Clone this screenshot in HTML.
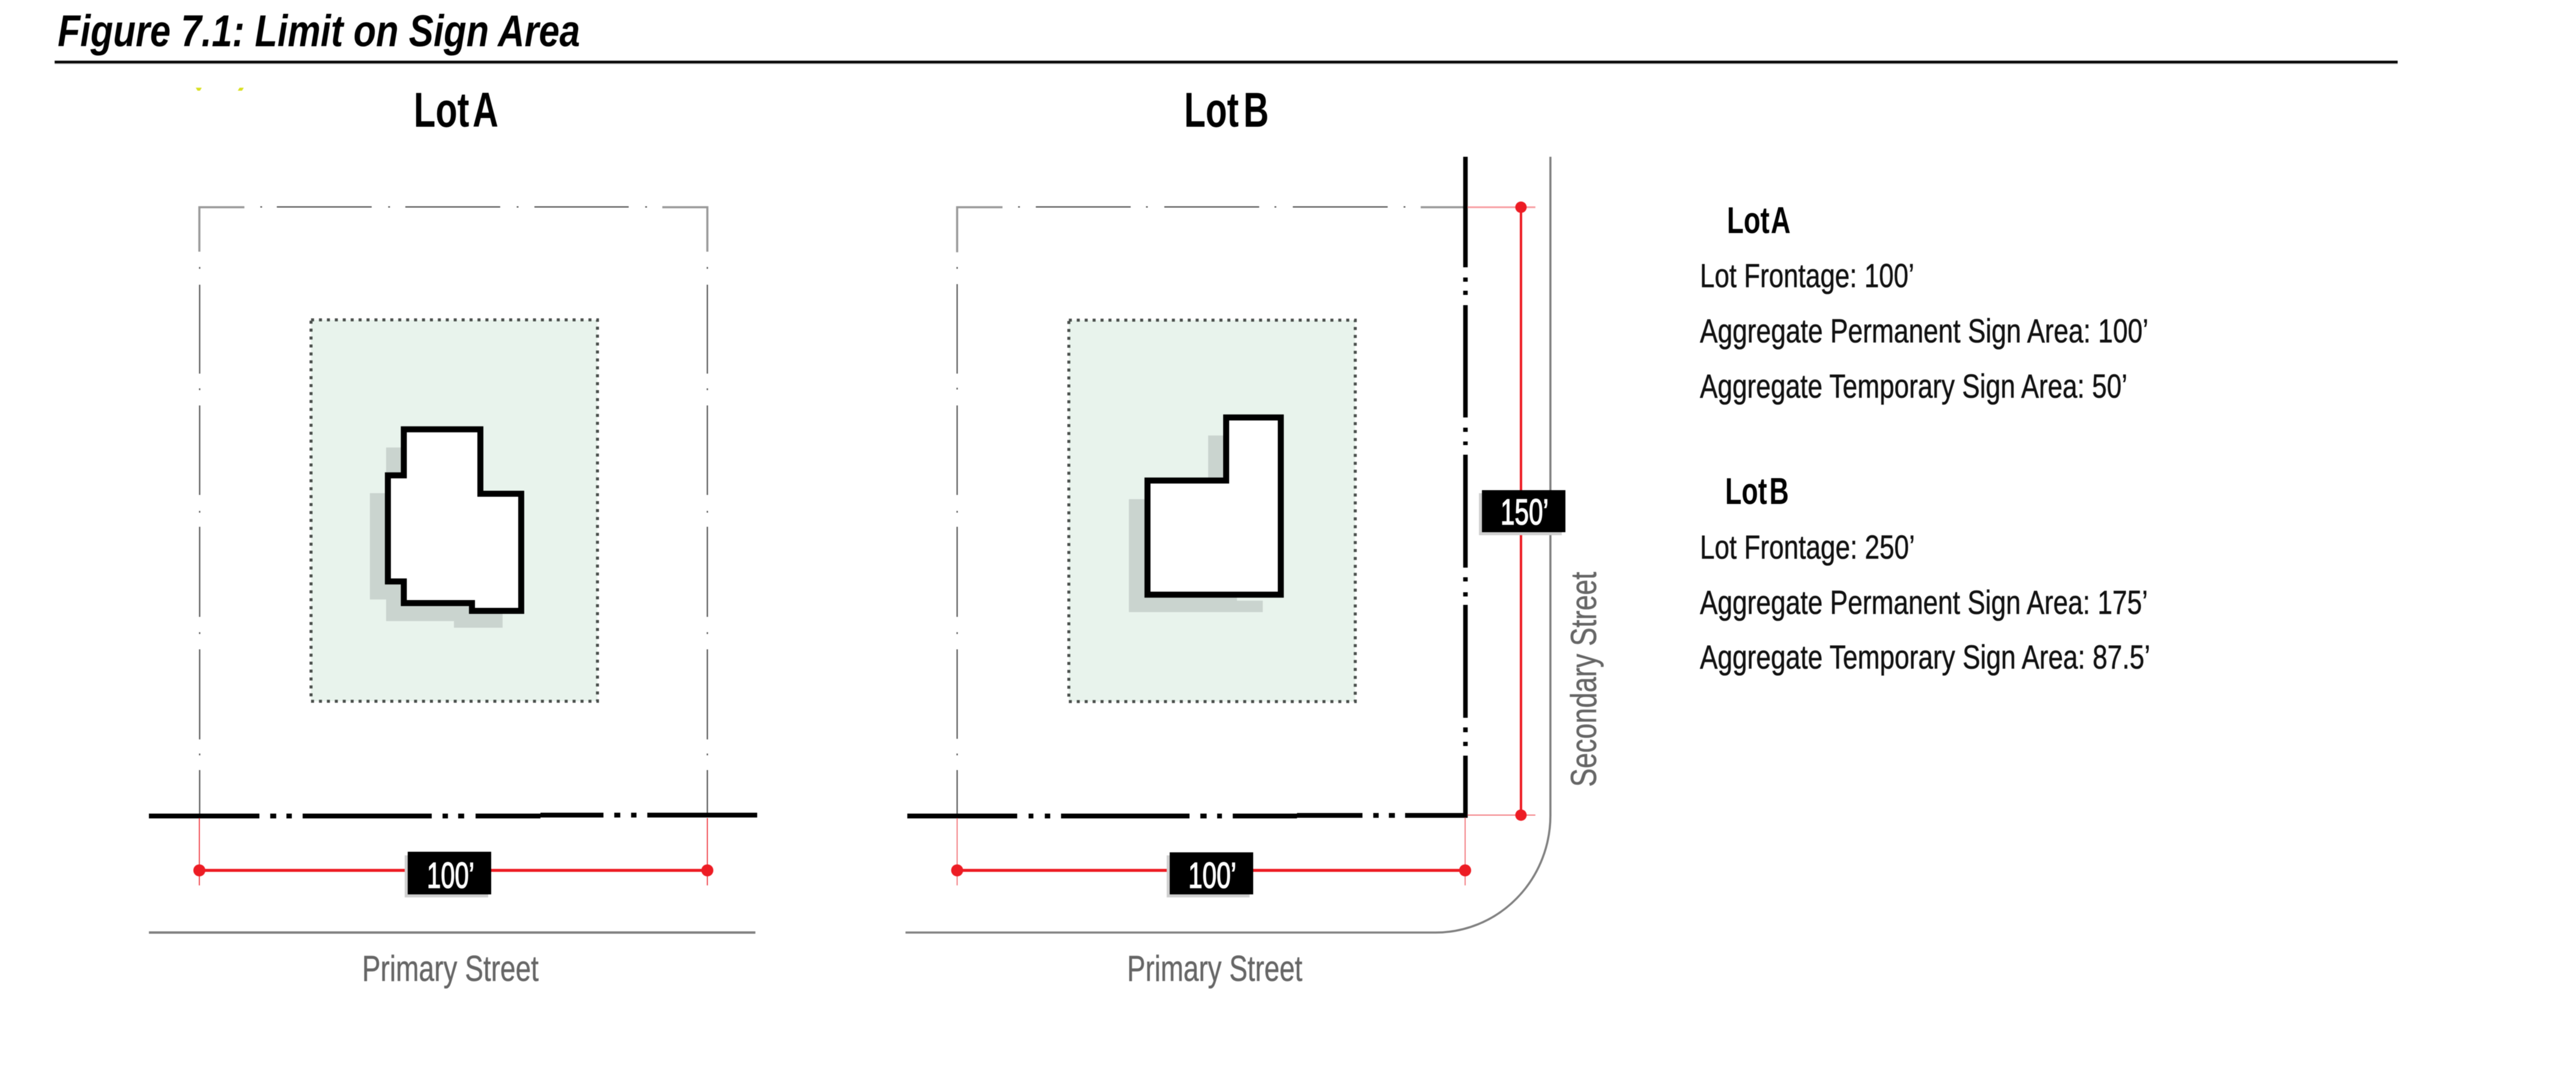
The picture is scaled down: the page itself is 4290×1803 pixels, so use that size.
<!DOCTYPE html>
<html><head><meta charset="utf-8"><title>Figure 7.1: Limit on Sign Area</title>
<style>
html,body{margin:0;padding:0;background:#fff}
svg{display:block;filter:blur(0.6px)}
text{font-family:"Liberation Sans",Arial,sans-serif}
.t{font-weight:bold;fill:#000}
.lt{font-weight:bold;fill:#000;word-spacing:-12px}
.b{fill:#111;font-size:56px;stroke:#111;stroke-width:.6px}
.s{fill:#666;font-size:60px;stroke:#666;stroke-width:.5px}
.w{fill:#fff;font-size:60px;stroke:#fff;stroke-width:1.6px}
</style></head><body>
<svg xmlns="http://www.w3.org/2000/svg" width="4290" height="1803" viewBox="0 0 4290 1803">
<rect width="4290" height="1803" fill="#fff"/>

<!-- header -->
<text x="96" y="77" font-size="74" font-weight="bold" font-style="italic" fill="#000" textLength="870" lengthAdjust="spacingAndGlyphs">Figure 7.1: Limit on Sign Area</text>
<rect x="91" y="101" width="3902" height="4.500" fill="#0a0a0a"/>
<rect x="91" y="105.500" width="3902" height="1.500" fill="#ccc"/>
<polygon points="326,146 336,146 333,151 329,151" fill="#d9e021"/>
<polygon points="396,151 399,146 406,146 403,151" fill="#d9e021"/>
<text class="lt" x="689" y="211" font-size="82" textLength="141" lengthAdjust="spacingAndGlyphs">Lot A</text>
<text class="lt" x="1972" y="211" font-size="82" textLength="141" lengthAdjust="spacingAndGlyphs">Lot B</text>

<!-- LOT A -->
<path fill="none" stroke="#999" stroke-width="3.500" d="M407 345H332V419M1103 345H1178V419"/>
<path fill="none" stroke="#5a5a5a" stroke-width="2.200" d="M433.500 344.500H436.500M461 344.500H619M646.500 344.500H649.500M675 344.500H833M860.500 344.500H863.500M890 344.500H1047M1074.500 344.500H1077.500
M332.500 444.500V447.500M332.500 474V622M332.500 646.500V649.500M332.500 675V824M332.500 850.500V853.500M332.500 877V1027M332.500 1052.500V1055.500M332.500 1081V1231M332.500 1254.500V1257.500M332.500 1282V1358
M1178 444.500V447.500M1178 474V622M1178 646.500V649.500M1178 675V824M1178 850.500V853.500M1178 877V1027M1178 1052.500V1055.500M1178 1081V1231M1178 1254.500V1257.500M1178 1282V1358"/>
<rect x="518" y="532.500" width="477" height="635" fill="#e8f3ec"/>
<rect x="518" y="532.500" width="477" height="635" fill="none" stroke="#4a4f4c" stroke-width="5" stroke-dasharray="5 8.200"/>
<polygon fill="#cad4cf" points="643,745 700,745 700,1000 837,1000 837,1045 756,1045 756,1034 643,1034 643,998 616,998 616,821 643,821"/>
<path fill="#fff" stroke="#000" stroke-width="10" stroke-linejoin="miter" d="M672.500 714.700H800V822H868V1017H786V1004H672.500V968H646V791.400H672.500Z"/>
<path fill="none" stroke="#000" stroke-width="8" d="M248 1358.500H432M450 1358.500H460M477 1358.500H486M504 1358.500H719M737 1358.500H746M763 1358.500H773M792 1358.500H900"/>
<path fill="none" stroke="#000" stroke-width="8" d="M900 1357H1005M1023 1357H1033M1051 1357H1060M1078 1357H1261"/>
<path fill="none" stroke="#ed1c24" stroke-width="1.500" d="M332 1362V1474M1178 1362V1474"/>
<path fill="none" stroke="#ed1c24" stroke-width="5" d="M332 1449H1178"/>
<circle cx="332" cy="1449" r="10" fill="#ed1c24"/><circle cx="1178" cy="1449" r="10" fill="#ed1c24"/>
<rect x="674" y="1424" width="139" height="70" fill="#cfcfcf"/>
<rect x="679" y="1418" width="139" height="71" fill="#000"/>
<text class="w" x="711" y="1478" textLength="79" lengthAdjust="spacingAndGlyphs">100’</text>
<path fill="none" stroke="#808080" stroke-width="4" d="M248 1552.500H1258"/>
<text class="s" x="603" y="1633" textLength="294" lengthAdjust="spacingAndGlyphs">Primary Street</text>

<!-- LOT B -->
<path fill="none" stroke="#999" stroke-width="3.500" d="M1669.500 345H1594V420M2366 345H2440"/>
<path fill="none" stroke="#5a5a5a" stroke-width="2.200" d="M1695.500 344.500H1698.500M1725 344.500H1883M1908.500 344.500H1911.500M1939 344.500H2097M2122.500 344.500H2125.500M2153 344.500H2311M2337.500 344.500H2340.500
M1594 444.500V447.500M1594 473V622M1594 645.500V648.500M1594 675V824M1594 850.500V853.500M1594 877V1027M1594 1052.500V1055.500M1594 1081V1230M1594 1254.500V1257.500M1594 1282V1358"/>
<rect x="1780" y="533" width="477" height="635" fill="#e8f3ec"/>
<rect x="1780" y="533" width="477" height="635" fill="none" stroke="#4a4f4c" stroke-width="5" stroke-dasharray="5 8.200"/>
<polygon fill="#cad4cf" points="2012,725 2060,725 2060,1000 2103,1000 2103,1019 1880,1019 1880,831 1950,831 1950,800 2012,800"/>
<path fill="#fff" stroke="#000" stroke-width="10" d="M2042 695H2133V990H1911V800H2042Z"/>
<path fill="none" stroke="#000" stroke-width="7.500" d="M2440.500 261V445M2440.500 462V469M2440.500 484V491M2440.500 508V695M2440.500 712V719M2440.500 735V741M2440.500 757V945M2440.500 961V968M2440.500 986V993M2440.500 1007V1195M2440.500 1211V1219M2440.500 1235V1242M2440.500 1258V1361"/>
<path fill="none" stroke="#000" stroke-width="8" d="M1511 1358.500H1694M1713 1358.500H1721M1740 1358.500H1749M1767 1358.500H1981M1999 1358.500H2009.500M2027 1358.500H2035M2053 1358.500H2160"/>
<path fill="none" stroke="#000" stroke-width="8" d="M2160 1357.500H2269M2287 1357.500H2296M2313 1357.500H2323M2340 1357.500H2444"/>
<path fill="none" stroke="#f8a0a5" stroke-width="3" d="M2444 345H2557"/>
<path fill="none" stroke="#ef5a60" stroke-width="1.500" d="M2444 1357H2557M2440 1361V1474M1594 1362V1474"/>
<path fill="none" stroke="#ed1c24" stroke-width="4" d="M2533 345V1357"/>
<path fill="none" stroke="#ed1c24" stroke-width="5" d="M1594 1449H2440"/>
<circle cx="2533" cy="345" r="9.500" fill="#ed1c24"/><circle cx="2533" cy="1357" r="9.500" fill="#ed1c24"/>
<circle cx="1594" cy="1449" r="10" fill="#ed1c24"/><circle cx="2440" cy="1449" r="10" fill="#ed1c24"/>
<path fill="none" stroke="#808080" stroke-width="3.500" d="M2582 261V1357A191 195 0 0 1 2391 1552.500H1508"/>
<rect x="1943" y="1424" width="138" height="70" fill="#cfcfcf"/>
<rect x="1948" y="1419" width="139" height="70" fill="#000"/>
<text class="w" x="1979" y="1478" textLength="80" lengthAdjust="spacingAndGlyphs">100’</text>
<rect x="2463" y="821" width="138" height="70" fill="#cfcfcf"/>
<rect x="2468" y="816" width="139" height="70" fill="#000"/>
<text class="w" x="2499" y="873" textLength="80" lengthAdjust="spacingAndGlyphs">150’</text>
<text class="s" x="1877" y="1633" textLength="292" lengthAdjust="spacingAndGlyphs">Primary Street</text>
<text class="s" transform="translate(2658 1310) rotate(-90)" x="0" y="0" textLength="358" lengthAdjust="spacingAndGlyphs">Secondary Street</text>

<!-- legend -->
<text class="lt" x="2876" y="388" font-size="62" textLength="106" lengthAdjust="spacingAndGlyphs">Lot A</text>
<text class="b" x="2831" y="478" textLength="357" lengthAdjust="spacingAndGlyphs">Lot Frontage: 100’</text>
<text class="b" x="2831" y="570" textLength="747" lengthAdjust="spacingAndGlyphs">Aggregate Permanent Sign Area: 100’</text>
<text class="b" x="2831" y="662" textLength="712" lengthAdjust="spacingAndGlyphs">Aggregate Temporary Sign Area: 50’</text>
<text class="lt" x="2873" y="839" font-size="62" textLength="106" lengthAdjust="spacingAndGlyphs">Lot B</text>
<text class="b" x="2831" y="930" textLength="358" lengthAdjust="spacingAndGlyphs">Lot Frontage: 250’</text>
<text class="b" x="2831" y="1022" textLength="746" lengthAdjust="spacingAndGlyphs">Aggregate Permanent Sign Area: 175’</text>
<text class="b" x="2831" y="1113" textLength="750" lengthAdjust="spacingAndGlyphs">Aggregate Temporary Sign Area: 87.5’</text>
</svg>
</body></html>
